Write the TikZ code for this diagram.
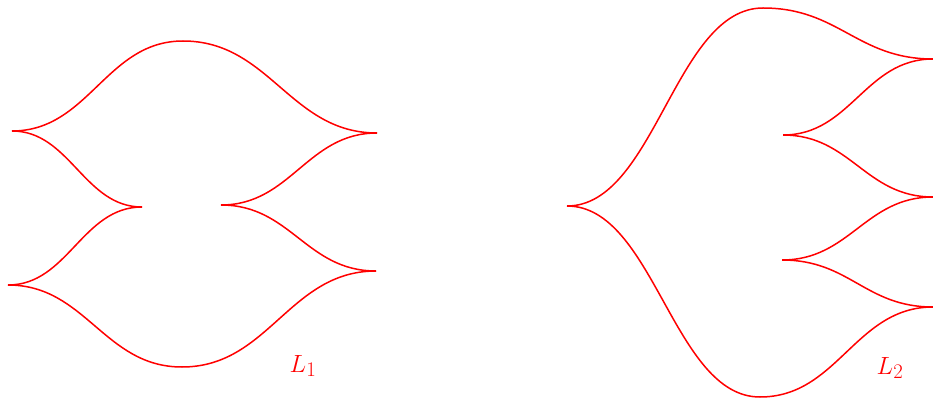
\documentclass[tikz,border=0pt]{standalone}
\begin{document}
\begin{tikzpicture}[x=1pt,y=-1pt,
  front/.style={draw=red,line width=1.5pt},
  lab/.style={text=red,font=\fontsize{31}{33}\selectfont}]
\useasboundingbox (0,0) rectangle (933,398);
% L1 cusps and extrema
\coordinate (A1) at (12,131);
\coordinate (P1) at (183,41);
\coordinate (B1) at (377,133);
\coordinate (C1) at (142,207);
\coordinate (D1) at (8,285);
\coordinate (Q1) at (182,367);
\coordinate (E1) at (376,271);
\coordinate (F1) at (221,205);
% L2
\coordinate (A2) at (567,206);
\coordinate (P2) at (763,8);
\coordinate (B2) at (933,59);
\coordinate (C2) at (783,135);
\coordinate (D2) at (933,197);
\coordinate (G2) at (782,260);
\coordinate (E2) at (933,307);
\coordinate (Q2) at (760,397);
% L1 curves
\path[front] (A1) .. controls +(77,0) and +(-77,0) .. (P1)
                  .. controls +(87,0) and +(-87,0) .. (B1);
\path[front] (A1) .. controls +(58,0) and +(-58,0) .. (C1);
\path[front] (D1) .. controls +(60,0) and +(-60,0) .. (C1);
\path[front] (D1) .. controls +(78,0) and +(-78,0) .. (Q1)
                  .. controls +(87,0) and +(-87,0) .. (E1);
\path[front] (F1) .. controls +(70,0) and +(-70,0) .. (B1);
\path[front] (F1) .. controls +(70,0) and +(-70,0) .. (E1);
% L2 curves
\path[front] (A2) .. controls +(88,0) and +(-88,0) .. (P2)
                  .. controls +(76,0) and +(-76,0) .. (B2);
\path[front] (C2) .. controls +(68,0) and +(-68,0) .. (B2);
\path[front] (C2) .. controls +(68,0) and +(-68,0) .. (D2);
\path[front] (G2) .. controls +(68,0) and +(-68,0) .. (D2);
\path[front] (G2) .. controls +(68,0) and +(-68,0) .. (E2);
\path[front] (A2) .. controls +(87,0) and +(-87,0) .. (Q2)
                  .. controls +(78,0) and +(-78,0) .. (E2);
% labels
\node[lab] (l1) at (303,366) {$L_1$};
\node[lab] (l2) at (890,368) {$L_2$};
\end{tikzpicture}
\end{document}
